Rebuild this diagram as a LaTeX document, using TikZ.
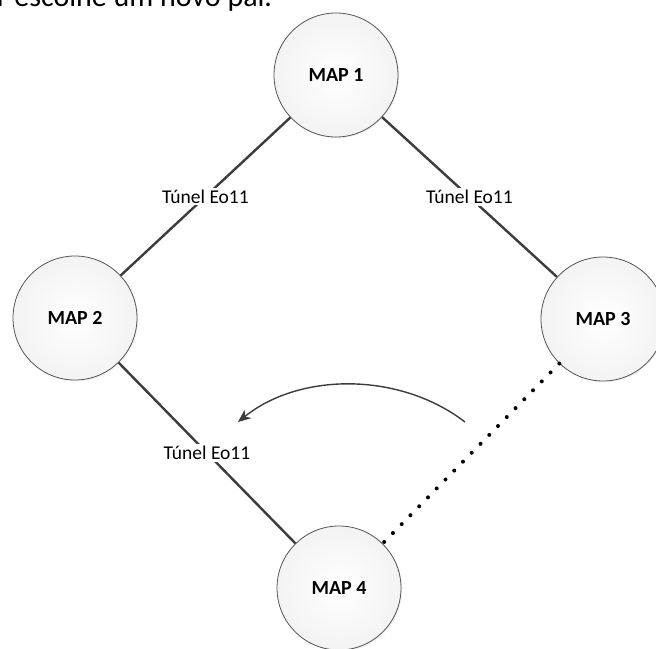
\documentclass[tikz,border=0pt]{standalone}
\usepackage{fontspec}
\setmainfont{Carlito}
\usetikzlibrary{shadows,arrows.meta}
\definecolor{linegray}{HTML}{3C3C3C}
\definecolor{rimgray}{HTML}{555555}
\definecolor{fillgray}{HTML}{F3F3F3}
\tikzset{
  mapnode/.style={circle, draw=rimgray, line width=0.8pt, minimum size=124pt, inner sep=0pt,
    shading=radial, inner color=white, outer color=fillgray,
    drop shadow={shadow xshift=1.2pt, shadow yshift=-1.2pt, opacity=0.12},
    font=\fontsize{20}{22}\selectfont\bfseries},
  link/.style={draw=linegray, line width=2.4pt},
  tunnel/.style={fill=white, inner xsep=1pt, inner ysep=2pt, font=\fontsize{19.5}{22}\selectfont, text=black},
  dotlink/.style={draw=black, line width=4pt, line cap=round, dash pattern=on 0pt off 12.5pt},
  movearrow/.style={draw=linegray, line width=1.4pt, -{Stealth[length=13pt,width=11pt]}}
}
\begin{document}
\begin{tikzpicture}[x=1pt,y=-1pt]
\clip (0,0) rectangle (656,648);
\fill[white] (0,0) rectangle (656,648);
\node[anchor=base west, inner sep=0pt, font=\fontsize{30}{34}\selectfont] (top) at (-3,6) {r escolhe um novo pai.};
\node[mapnode] (m1) at (336,75) {MAP 1};
\node[mapnode] (m2) at (75,318) {MAP 2};
\node[mapnode] (m3) at (603,319) {MAP 3};
\node[mapnode] (m4) at (339,588) {MAP 4};
\draw[link] (m1) -- node[tunnel] (t1) {Túnel Eo11} (m2);
\draw[link] (m1) -- node[tunnel] (t2) {Túnel Eo11} (m3);
\draw[link] (m2) -- node[tunnel] (t3) {Túnel Eo11} (m4);
\draw[dotlink] (m3) -- (m4);
\coordinate (as) at (465,422);
\coordinate (ae) at (238,422);
\draw[movearrow] (as) .. controls (400,372) and (300,372) .. (ae);
\end{tikzpicture}
\end{document}
